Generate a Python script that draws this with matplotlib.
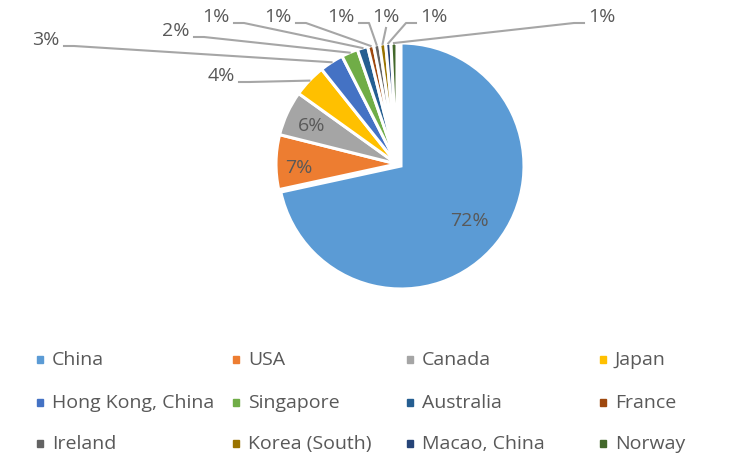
import numpy as np
import matplotlib
matplotlib.use("Agg")
import matplotlib.pyplot as plt
from matplotlib.patches import Rectangle

plt.rcParams['font.family'] = ['Open Sans', 'DejaVu Sans']

countries = ["China", "USA", "Canada", "Japan", "Hong Kong, China", "Singapore",
             "Australia", "France", "Ireland", "Korea (South)", "Macao, China", "Norway"]
shares = [71.6, 7.3, 6.0, 4.4, 3.2, 2.2, 1.4, 0.8, 0.8, 0.8, 0.7, 0.8]
colors = ["#5B9BD5", "#ED7D31", "#A5A5A5", "#FFC000", "#4472C4", "#70AD47",
          "#255E91", "#9E480E", "#636363", "#997300", "#264478", "#43682B"]
labels = ["72%", "7%", "6%", "4%", "3%", "2%", "1%", "1%", "1%", "1%", "1%", "1%"]

W, H = 737, 469
fig = plt.figure(figsize=(W / 100, H / 100), dpi=100)
ax = fig.add_axes([0, 0, 1, 1])

cx, cy, R = 397, H - 164, 121
wedges, _ = ax.pie(shares, colors=colors, startangle=90, counterclock=False,
                   center=(cx, cy), radius=R, frame=True,
                   wedgeprops=dict(edgecolor='white', linewidth=2.2))
# China slice pulled out a little
wedges[0].set_center((401, H - 166))
wedges[0].set_radius(123)
ax.set_xlim(0, W)
ax.set_ylim(0, H)
ax.set_aspect('equal')
ax.axis('off')

fs = 14
tc = '#595959'
# inside labels
inside_r = [0.71, 0.81, 0.78]
inside_dy = [0, -6, -2]
for i in range(3):
    w = wedges[i]
    a = np.deg2rad((w.theta1 + w.theta2) / 2)
    wx, wy = w.center
    ax.text(wx + inside_r[i] * w.r * np.cos(a),
            wy + inside_r[i] * w.r * np.sin(a) + inside_dy[i],
            labels[i], ha='center', va='center', fontsize=fs, color=tc)

# outside labels with leader lines (label positions in image pixels)
out_pos = [(221, 76), (46, 40), (176, 31), (216, 17), (278, 17), (341, 17),
           (386, 17), (434, 17), (602, 17)]
lc = '#A6A6A6'
for k, i in enumerate(range(3, 12)):
    w = wedges[i]
    a = np.deg2rad((w.theta1 + w.theta2) / 2)
    px, py = cx + 1.0 * R * np.cos(a), cy + 1.0 * R * np.sin(a)
    lx, ly = out_pos[k][0], H - out_pos[k][1]
    ax.text(lx, ly, labels[i], ha='center', va='center', fontsize=fs, color=tc)
    if abs(px - lx) < 12:
        # slice sits right under its label
        ax.plot([lx, px], [ly - 11, py], color=lc, lw=1.5)
    elif px > lx:
        ex = lx + 18
        ax.plot([ex, ex + 10, px], [ly - 6, ly - 6, py], color=lc, lw=1.5)
    else:
        ex = lx - 18
        ax.plot([ex, ex - 10, px], [ly - 6, ly - 6, py], color=lc, lw=1.5)

# legend
col_x = [40, 236, 410, 603]
row_y = [360, 403, 444]
for i, name in enumerate(countries):
    x = col_x[i % 4]
    y = H - row_y[i // 4]
    ax.add_patch(Rectangle((x - 3, y - 3), 6.5, 6.5, color=colors[i]))
    ax.text(x + 12, y, name, ha='left', va='center', fontsize=fs, color=tc)

fig.savefig("out.png", dpi=100)
